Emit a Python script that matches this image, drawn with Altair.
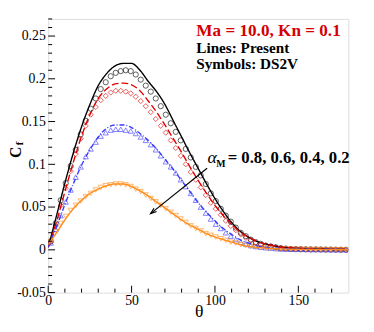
import altair as alt
import pandas as pd

# ---------------- data ----------------
series_keys = ["a08", "a06", "a04", "a02"]
series_colors = ["#000000", "#e00000", "#3a3aff", "#ff8c1a"]

theta_line = [0, 5, 10, 15, 20, 25, 30, 35, 40, 45, 50, 55, 60, 65, 70, 75, 80, 85,
              90, 95, 100, 105, 110, 115, 120, 125, 130, 135, 140, 150, 160, 170, 180]
present_08 = [0.003, 0.040, 0.078, 0.113, 0.144, 0.170, 0.192, 0.206, 0.215, 0.218, 0.218,
              0.210, 0.197, 0.185, 0.170, 0.151, 0.132, 0.113, 0.095, 0.077, 0.060, 0.045,
              0.032, 0.022, 0.015, 0.010, 0.007, 0.005, 0.003, 0.0015, 0.001, 0.0005, 0.0003]
present_06 = [0.003, 0.033, 0.068, 0.102, 0.133, 0.158, 0.177, 0.188, 0.194, 0.195, 0.193,
              0.186, 0.174, 0.161, 0.146, 0.130, 0.114, 0.097, 0.081, 0.066, 0.052, 0.040,
              0.030, 0.021, 0.015, 0.010, 0.007, 0.005, 0.003, 0.002, 0.001, 0.0006, 0.0003]
present_04 = [0.003, 0.027, 0.053, 0.077, 0.099, 0.117, 0.132, 0.142, 0.146, 0.146, 0.143,
              0.136, 0.128, 0.118, 0.106, 0.094, 0.081, 0.068, 0.055, 0.044, 0.034, 0.025,
              0.018, 0.012, 0.008, 0.005, 0.003, 0.002, 0.0015, 0.001, 0.0006, 0.0003, 0.0002]
present_02 = [0.006, 0.020, 0.035, 0.048, 0.058, 0.066, 0.071, 0.075, 0.077, 0.077, 0.074,
              0.069, 0.063, 0.056, 0.049, 0.042, 0.035, 0.029, 0.024, 0.019, 0.015, 0.012,
              0.009, 0.006, 0.004, 0.003, 0.002, 0.0015, 0.001, 0.0006, 0.0004, 0.0002, 0.0001]

theta_sym = [1.5 + 3 * i for i in range(60)]
ds2v_08 = [0.010, 0.031, 0.058, 0.078, 0.098, 0.117, 0.135, 0.151, 0.165, 0.177,
           0.188, 0.196, 0.203, 0.207, 0.209, 0.210, 0.209, 0.205, 0.199, 0.192,
           0.185, 0.177, 0.168, 0.158, 0.148, 0.138, 0.128, 0.118, 0.108, 0.097,
           0.087, 0.077, 0.066, 0.057, 0.048, 0.040, 0.033, 0.026, 0.020, 0.016,
           0.012, 0.009, 0.007, 0.005, 0.004, 0.003, 0.002, 0.0015, 0.001, 0.0008,
           0.0007, 0.0006, 0.0005, 0.0005, 0.0004, 0.0003, 0.0003, 0.0002, 0.0002, 0.0001]
ds2v_06 = [0.009, 0.028, 0.052, 0.072, 0.092, 0.112, 0.130, 0.145, 0.158, 0.167,
           0.175, 0.180, 0.184, 0.186, 0.186, 0.185, 0.183, 0.179, 0.174, 0.168,
           0.161, 0.153, 0.145, 0.137, 0.128, 0.119, 0.110, 0.100, 0.091, 0.082,
           0.073, 0.064, 0.055, 0.048, 0.041, 0.034, 0.028, 0.023, 0.018, 0.014,
           0.011, 0.008, 0.006, 0.005, 0.004, 0.003, 0.002, 0.0015, 0.001, 0.0008,
           0.0007, 0.0006, 0.0005, 0.0004, 0.0004, 0.0003, 0.0003, 0.0002, 0.0002, 0.0001]
ds2v_04 = [0.008, 0.024, 0.040, 0.056, 0.070, 0.085, 0.097, 0.109, 0.118, 0.126,
           0.133, 0.137, 0.140, 0.141, 0.141, 0.140, 0.139, 0.136, 0.132, 0.128,
           0.123, 0.117, 0.110, 0.103, 0.097, 0.090, 0.082, 0.074, 0.066, 0.058,
           0.050, 0.043, 0.036, 0.030, 0.025, 0.020, 0.016, 0.012, 0.009, 0.007,
           0.005, 0.004, 0.003, 0.0025, 0.002, 0.0015, 0.001, 0.0009, 0.0008, 0.0007,
           0.0006, 0.0005, 0.0004, 0.0004, 0.0003, 0.0003, 0.0002, 0.0002, 0.0001, 0.0001]
ds2v_02 = [0.010, 0.021, 0.031, 0.039, 0.046, 0.052, 0.057, 0.062, 0.066, 0.070,
           0.073, 0.075, 0.076, 0.077, 0.077, 0.076, 0.074, 0.071, 0.068, 0.064,
           0.060, 0.056, 0.052, 0.048, 0.044, 0.040, 0.036, 0.032, 0.028, 0.025,
           0.022, 0.019, 0.017, 0.015, 0.013, 0.011, 0.009, 0.008, 0.006, 0.005,
           0.004, 0.003, 0.0025, 0.002, 0.0015, 0.001, 0.0009, 0.0008, 0.0007, 0.0006,
           0.0005, 0.0004, 0.0004, 0.0003, 0.0003, 0.0002, 0.0002, 0.0001, 0.0001, 0.0001]

x_major = [0, 50, 100, 150]
x_minor = [10, 20, 30, 40, 60, 70, 80, 90, 110, 120, 130, 140, 160, 170]
y_major = [-0.05, 0, 0.05, 0.1, 0.15, 0.2, 0.25]
y_minor = [-0.04, -0.03, -0.02, -0.01, 0.01, 0.02, 0.03, 0.04, 0.06, 0.07, 0.08, 0.09,
           0.11, 0.12, 0.13, 0.14, 0.16, 0.17, 0.18, 0.19, 0.21, 0.22, 0.23, 0.24, 0.26, 0.27]

arrow_theta = [95.3, 61.4]
arrow_cf = [0.0954, 0.0423]

# ---------------- tables ----------------
lines_df = pd.concat([
    pd.DataFrame({"theta": theta_line, "cf": v, "series": k})
    for k, v in zip(series_keys, [present_08, present_06, present_04, present_02])
])
sym_df = pd.concat([
    pd.DataFrame({"theta": theta_sym, "cf": v, "series": k})
    for k, v in zip(series_keys, [ds2v_08, ds2v_06, ds2v_04, ds2v_02])
])

W, H = 306, 279
SERIF = "Liberation Serif"

xscale = alt.Scale(domain=[0, 180], nice=False, zero=False)
yscale = alt.Scale(domain=[-0.05, 0.27], nice=False, zero=False)
color_scale = alt.Scale(domain=series_keys, range=series_colors)

xaxis = alt.Axis(values=x_major, ticks=False, grid=False, domain=False, title=None,
                 labelFont=SERIF, labelFontSize=14, labelColor="black", labelPadding=1,
                 labelFlush=False)
yaxis = alt.Axis(values=y_major, ticks=False, grid=False, domain=False, title=None,
                 labelFont=SERIF, labelFontSize=14, labelColor="black", labelPadding=3,
                 labelExpr="replace(format(datum.value, '.2~f'), '\u2212', '-')")

points = alt.Chart(sym_df).mark_point(filled=False, size=28, strokeWidth=0.9, clip=True).encode(
    x=alt.X("theta:Q", scale=xscale, axis=xaxis),
    y=alt.Y("cf:Q", scale=yscale, axis=yaxis),
    color=alt.Color("series:N", scale=color_scale, legend=None),
    shape=alt.Shape("series:N", scale=alt.Scale(domain=series_keys,
                    range=["circle", "diamond", "triangle-up", "triangle-down"]), legend=None),
)

lines = alt.Chart(lines_df).mark_line(strokeWidth=1.4, clip=True, interpolate="monotone").encode(
    x="theta:Q",
    y="cf:Q",
    color=alt.Color("series:N", scale=color_scale, legend=None),
    strokeDash=alt.StrokeDash("series:N", scale=alt.Scale(domain=series_keys,
                              range=[[1, 0], [7, 3], [5, 2, 1, 2], [1, 0]]), legend=None),
)

# inward ticks
xt_major = alt.Chart(pd.DataFrame({"v": x_major})).mark_rule(color="black", strokeWidth=1).encode(
    x="v:Q", y=alt.value(H), y2=alt.value(H - 7))
xt_minor = alt.Chart(pd.DataFrame({"v": x_minor})).mark_rule(color="black", strokeWidth=1).encode(
    x="v:Q", y=alt.value(H), y2=alt.value(H - 4))
yt_major = alt.Chart(pd.DataFrame({"v": y_major})).mark_rule(color="black", strokeWidth=1).encode(
    y="v:Q", x=alt.value(0), x2=alt.value(7))
yt_minor = alt.Chart(pd.DataFrame({"v": y_minor})).mark_rule(color="black", strokeWidth=1).encode(
    y="v:Q", x=alt.value(0), x2=alt.value(4))

# arrow
arrow_df = pd.DataFrame({"t1": [arrow_theta[0]], "c1": [arrow_cf[0]],
                         "t2": [arrow_theta[1]], "c2": [arrow_cf[1]]})
arrow = alt.Chart(arrow_df).mark_rule(color="black", strokeWidth=1.2).encode(
    x="t1:Q", y="c1:Q", x2="t2:Q", y2="c2:Q")
head = alt.Chart(arrow_df).mark_point(
    shape="M-0.45,1.3L0,0L0.45,1.3", filled=False, size=90, strokeWidth=1.2,
    color="black", angle=231, opacity=1).encode(x="t2:Q", y="c2:Q")

one = pd.DataFrame({"a": [0]})


def label(text, x, y, size, color="black", weight="bold", align="left",
          baseline="alphabetic", angle=0, style="normal"):
    return alt.Chart(one).mark_text(
        text=text, font=SERIF, fontSize=size, fontWeight=weight, color=color,
        align=align, baseline=baseline, angle=angle, fontStyle=style,
    ).encode(x=alt.value(x), y=alt.value(y))


texts = [
    label("Ma = 10.0, Kn = 0.1", 151, 17, 17.5, color="#d40000"),
    label("Lines: Present", 151, 35, 15.5),
    label("Symbols: DS2V", 151, 51, 15.5),
    label("\u03b1", 167, 147, 18, weight="normal", align="center", style="italic"),
    label("M", 176, 151, 10, align="center"),
    label("= 0.8, 0.6, 0.4, 0.2", 183, 147, 17),
    label("C", -33, 136, 16, align="center", baseline="middle", angle=270),
    label("f", -29, 127, 11, align="center", baseline="middle", angle=270),
    label("\u03b8", 154, 299, 18, weight="normal", align="center", baseline="middle"),
]

chart = alt.layer(
    points, lines, xt_major, xt_minor, yt_major, yt_minor, arrow, head, *texts
).properties(
    width=W, height=H,
    autosize=alt.AutoSizeParams(type="none"),
    padding={"left": 41, "top": 8, "right": 18, "bottom": 36},
).configure_view(
    stroke="black", strokeWidth=2
).configure(background="white")

chart.save("out.html", embed_options={"renderer": "svg", "actions": False})
